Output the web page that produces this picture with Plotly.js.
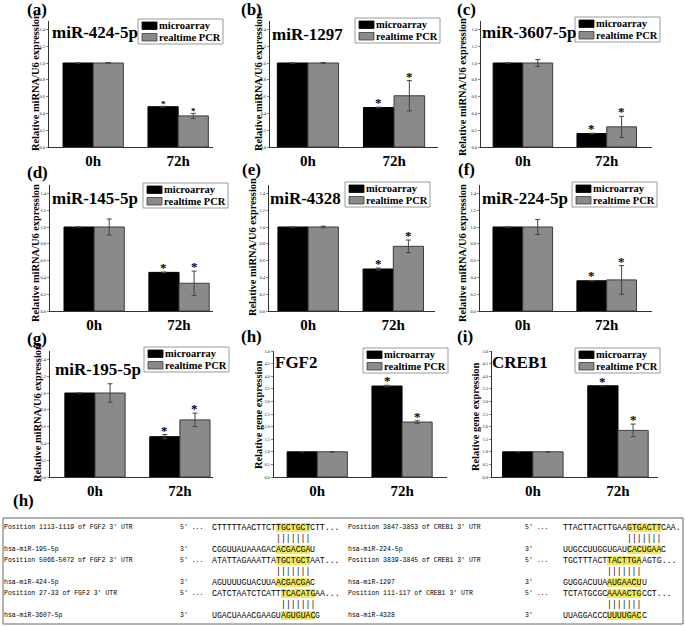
<!DOCTYPE html>
<html><head><meta charset="utf-8">
<script src="https://cdn.plot.ly/plotly-3.0.1.min.js"></script>
<style>body{margin:0;background:#fff}#chart{width:685px;height:626px}</style>
</head><body><div id="chart"></div>
<script>
// ---------------- DATA ----------------
const timepoints = ['0h', '72h'];
const panelLetters = ['(a)', '(b)', '(c)', '(d)', '(e)', '(f)', '(g)', '(h)', '(i)'];
const panelTitles = ['miR-424-5p', 'miR-1297', 'miR-3607-5p', 'miR-145-5p', 'miR-4328', 'miR-224-5p', 'miR-195-5p', 'FGF2', 'CREB1'];
const seriesNames = ['microarray', 'realtime PCR'];
const yTitles = ['Relative miRNA/U6 expression', 'Relative miRNA/U6 expression', 'Relative miRNA/U6 expression',
  'Relative miRNA/U6 expression', 'Relative miRNA/U6 expression', 'Relative miRNA/U6 expression',
  'Relative miRNA/U6 expression', 'Relative gene expression', 'Relative gene expression'];
const microarrayValues = [[1, 0.48], [1, 0.47], [1, 0.16], [1, 0.46], [1, 0.50], [1, 0.36], [1, 0.48], [1, 3.61], [1, 3.62]];
const microarrayErrors = [[0, 0.004], [0, 0.004], [0, 0.004], [0, 0.004], [0, 0.012], [0, 0.004], [0, 0.025], [0, 0.03], [0, 0.004]];
const realtimeValues = [[1, 0.37], [1, 0.61], [1, 0.24], [1, 0.33], [1, 0.77], [1, 0.37], [1, 0.68], [1, 2.18], [1, 1.85]];
const realtimeErrors = [[0.005, 0.03], [0.005, 0.18], [0.04, 0.125], [0.095, 0.145], [0.01, 0.075], [0.09, 0.17], [0.11, 0.08], [0.01, 0.05], [0.01, 0.25]];
const significantMicro = [[false, true], [false, true], [false, true], [false, true], [false, true], [false, true], [false, true], [false, true], [false, true]];
const significantReal = [[false, true], [false, true], [false, true], [false, true], [false, true], [false, true], [false, true], [false, true], [false, true]];

// alignment table (h)
const utrLabels = ['Position 1113-1119 of FGF2 3\' UTR', 'Position 5066-5072 of FGF2 3\' UTR', 'Position 27-33 of FGF2 3\' UTR',
  'Position 3847-3853 of CREB1 3\' UTR', 'Position 3839-3845 of CREB1 3\' UTR', 'Position 111-117 of CREB1 3\' UTR'];
const mirLabels = ['hsa-miR-195-5p', 'hsa-miR-424-5p', 'hsa-miR-3607-5p', 'hsa-miR-224-5p', 'hsa-miR-1297', 'hsa-miR-4328'];
const utrSeqs = ['CTTTTTAACTTCTTGCTGCTCTT...', 'ATATTAGAAATTATGCTGCTAAT...', 'CATCTAATCTCATTTCACATGAA...',
  'TTACTTACTTGAAGTGACTTCAA.', 'TGCTTTACTTACTTGAAGTG...', 'TCTATGCGCAAAACTGCCT...'];
const mirSeqs = ['CGGUUAUAAAGACACGACGAU', 'AGUUUUGUACUUAACGACGAC', 'UGACUAAACGAAGUAGUGUACG',
  'UUGCCUUGGUGAUCACUGAAC', 'GUGGACUUAAUGAACUU', 'UUAGGACCCUUUUGACC'];
const seedStart = [13, 13, 14, 13, 9, 9];
const seedLength = 7;
const pairMark = '|||||||';

// ---------------- LAYOUT GEOMETRY (pixels) ----------------
const W = 685, H = 626;
const SERIF = '"Liberation Serif","Times New Roman",serif';
const MONO = '"Liberation Mono","Courier New",monospace';
const bargap = 0.29;
const rows = [[21, 147], [185, 311], [351, 477]];
const geo = [
  {x0: 49, x1: 213, r: [-0.52, 1.41]},
  {x0: 270, x1: 438, r: [-0.44, 1.51]},
  {x0: 481, x1: 652, r: [-0.5, 1.54]},
  {x0: 50, x1: 213, r: [-0.52, 1.40]},
  {x0: 269, x1: 435, r: [-0.46, 1.49]},
  {x0: 480, x1: 652, r: [-0.51, 1.54]},
  {x0: 50, x1: 213, r: [-0.53, 1.39]},
  {x0: 274, x1: 447, r: [-0.51, 1.53]},
  {x0: 492, x1: 658, r: [-0.48, 1.47]}
];
const letterPos = [[37, 10], [252, 9], [466, 9], [37, 172], [252, 170], [466, 170], [37, 338], [252, 336], [465, 336]];
const titlePos = [[52, 33], [272, 34], [482, 33], [52, 198], [270, 199], [482, 198], [55, 369], [275, 362], [492, 362]];
const legendPos = [[138, 19], [355, 18], [575, 17], [143, 183], [345, 182], [572, 182], [144, 347], [363, 348], [575, 348]];
const ytitlePos = [[35, 82], [258, 82], [463, 87], [36, 253], [252, 247], [463, 253], [37, 413], [258, 415], [475, 417]];
const starSize = [9, 13, 13, 13, 13, 13, 13, 13, 13];

const px = x => x / W;
const py = y => 1 - y / H;

const BLACK = '#000000', GREY = '#8a8a8a', GREY_LINE = '#3c3c3c';

const traces = [];
const layout = {
  width: W, height: H,
  margin: {l: 0, r: 0, t: 0, b: 0},
  paper_bgcolor: '#fff', plot_bgcolor: '#fff',
  barmode: 'group', bargap: bargap, bargroupgap: 0,
  showlegend: false,
  annotations: [], shapes: []
};

for (let i = 0; i < 9; i++) {
  const n = i === 0 ? '' : String(i + 1);
  const row = rows[Math.floor(i / 3)];
  const gene = i >= 7;
  traces.push({
    type: 'bar', name: seriesNames[0], x: timepoints, y: microarrayValues[i],
    xaxis: 'x' + n, yaxis: 'y' + n,
    marker: {color: BLACK, line: {color: BLACK, width: 1}},
    error_y: {type: 'data', array: microarrayErrors[i], visible: true, color: '#444', thickness: 1, width: 2.5},
    hoverinfo: 'skip'
  });
  traces.push({
    type: 'bar', name: seriesNames[1], x: timepoints, y: realtimeValues[i],
    xaxis: 'x' + n, yaxis: 'y' + n,
    marker: {color: GREY, line: {color: GREY_LINE, width: 1}},
    error_y: {type: 'data', array: realtimeErrors[i], visible: true, color: '#444', thickness: 1, width: 2.5},
    hoverinfo: 'skip'
  });
  layout['xaxis' + n] = {
    domain: [px(geo[i].x0), px(geo[i].x1)], range: geo[i].r, type: 'category',
    anchor: 'y' + n, showline: true, linecolor: '#333', linewidth: 1,
    ticks: '', showgrid: false, zeroline: false, fixedrange: true,
    tickfont: {family: SERIF, size: 15, color: '#000', weight: 'bold'}
  };
  layout['yaxis' + n] = {
    domain: [py(row[1]), py(row[0])], range: gene ? [0, 5] : [0, 1.5],
    dtick: gene ? 0.5 : 0.2, tick0: 0, tickformat: '.1f',
    anchor: 'x' + n, showline: true, linecolor: '#333', linewidth: 1,
    ticks: 'outside', ticklen: 2, tickcolor: '#333', tickwidth: 0.6,
    showgrid: false, zeroline: false, fixedrange: true,
    tickfont: {family: SERIF, size: 4.5, color: '#222'}
  };
  layout.annotations.push({xref: 'paper', yref: 'paper', x: px(letterPos[i][0]), y: py(letterPos[i][1]),
    xanchor: 'center', yanchor: 'middle', showarrow: false, text: panelLetters[i],
    font: {family: SERIF, size: 17, color: '#000', weight: 'bold'}});
  layout.annotations.push({xref: 'paper', yref: 'paper', x: px(titlePos[i][0]), y: py(titlePos[i][1]),
    xanchor: 'left', yanchor: 'middle', showarrow: false, text: panelTitles[i], borderpad: 0, borderwidth: 0,
    font: {family: SERIF, size: 17, color: '#000', weight: 'bold'}});
  layout.annotations.push({xref: 'paper', yref: 'paper', x: px(ytitlePos[i][0]), y: py(ytitlePos[i][1]),
    xanchor: 'center', yanchor: 'middle', showarrow: false, text: yTitles[i], textangle: -90,
    font: {family: SERIF, size: 10.4, color: '#000', weight: 'bold'}});
  const off = (1 - bargap) / 4;
  for (let k = 0; k < 2; k++) {
    if (significantMicro[i][k]) layout.annotations.push({xref: 'x' + n, yref: 'y' + n, x: k - off,
      y: microarrayValues[i][k] + microarrayErrors[i][k], xanchor: 'center', yanchor: 'bottom', showarrow: false,
      text: '*', borderpad: 0, yshift: -4, font: {family: SERIF, size: starSize[i], color: '#000', weight: 'bold'}});
    if (significantReal[i][k]) layout.annotations.push({xref: 'x' + n, yref: 'y' + n, x: k + off,
      y: realtimeValues[i][k] + realtimeErrors[i][k], xanchor: 'center', yanchor: 'bottom', showarrow: false,
      text: '*', borderpad: 0, yshift: -4, font: {family: SERIF, size: starSize[i], color: '#000', weight: 'bold'}});
  }
  const [lx, ly] = legendPos[i];
  layout.shapes.push({type: 'rect', xref: 'paper', yref: 'paper', x0: px(lx), x1: px(lx + 85), y0: py(ly), y1: py(ly + 25),
    line: {color: '#9a9a9a', width: 1}, fillcolor: '#fff'});
  layout.shapes.push({type: 'rect', xref: 'paper', yref: 'paper', x0: px(lx + 4), x1: px(lx + 19), y0: py(ly + 3), y1: py(ly + 10.5),
    line: {color: BLACK, width: 0.8}, fillcolor: BLACK});
  layout.shapes.push({type: 'rect', xref: 'paper', yref: 'paper', x0: px(lx + 4), x1: px(lx + 19), y0: py(ly + 14.5), y1: py(ly + 22),
    line: {color: GREY_LINE, width: 0.8}, fillcolor: GREY});
  layout.annotations.push({xref: 'paper', yref: 'paper', x: px(lx + 21), y: py(ly + 6.8), xanchor: 'left', yanchor: 'middle',
    showarrow: false, text: seriesNames[0], borderpad: 0, borderwidth: 0,
    font: {family: SERIF, size: 10.5, color: '#000', weight: 'bold'}});
  layout.annotations.push({xref: 'paper', yref: 'paper', x: px(lx + 21), y: py(ly + 18.3), xanchor: 'left', yanchor: 'middle',
    showarrow: false, text: seriesNames[1], borderpad: 0, borderwidth: 0,
    font: {family: SERIF, size: 10.5, color: '#000', weight: 'bold'}});
}

// ---------------- alignment table ----------------
layout.annotations.push({xref: 'paper', yref: 'paper', x: px(23), y: py(500), xanchor: 'center', yanchor: 'middle',
  showarrow: false, text: '(h)', font: {family: SERIF, size: 17, color: '#000', weight: 'bold'}});
layout.shapes.push({type: 'rect', xref: 'paper', yref: 'paper', x0: px(3), x1: px(683), y0: py(518), y1: py(624),
  line: {color: '#666', width: 1}, fillcolor: 'rgba(0,0,0,0)'});
const colX = [{label: 4, prime: 180, seq: 212}, {label: 348, prime: 525, seq: 563}];
const rowY0 = 527, rowStep = 11.1;
const seqSize = 8.2, cw = seqSize * 0.6;
const labFont = {family: MONO, size: 6.5, color: '#000'};
const seqFont = {family: MONO, size: seqSize, color: '#000'};
function txt(x, y, t, font, extra) {
  layout.annotations.push(Object.assign({xref: 'paper', yref: 'paper', x: px(x), y: py(y), xanchor: 'left', yanchor: 'middle',
    showarrow: false, text: t, font: font, borderpad: 0, borderwidth: 0}, extra || {}));
}
function seqText(x, y, s, start) {
  const pre = s.slice(0, start), seed = s.slice(start, start + seedLength), post = s.slice(start + seedLength);
  txt(x, y, pre, seqFont);
  txt(x + pre.length * cw, y, seed, seqFont, {bgcolor: '#f2e860'});
  if (post) txt(x + (start + seedLength) * cw, y, post, seqFont);
}
for (let k = 0; k < 6; k++) {
  const c = colX[k < 3 ? 0 : 1];
  const r0 = (k % 3) * 3;
  const y0 = rowY0 + r0 * rowStep, y1 = y0 + rowStep, y2 = y0 + 2 * rowStep;
  txt(c.label, y0, utrLabels[k], labFont);
  txt(c.prime, y0, '5\' ...', labFont);
  seqText(c.seq, y0, utrSeqs[k], seedStart[k]);
  txt(c.seq + seedStart[k] * cw, y1, pairMark, seqFont);
  txt(c.label, y2, mirLabels[k], labFont);
  txt(c.prime, y2, '3\'', labFont);
  seqText(c.seq, y2, mirSeqs[k], seedStart[k]);
}

Plotly.newPlot('chart', traces, layout, {displayModeBar: false, staticPlot: true});
</script>
</body></html>
